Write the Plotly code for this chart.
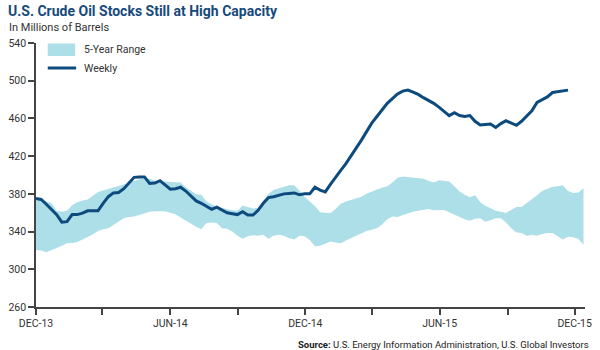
import pandas as pd
import plotly.graph_objects as go

# ---- data (millions of barrels, weekly) ----
weekly = [375, 374, 369, 364, 358, 350, 350.5, 358, 358, 359.5,
          362, 362, 362, 370, 377, 381, 381.5, 385.5, 392, 397.5,
          398, 398, 391, 391.5, 394, 389, 385, 385.5, 387, 383,
          378, 372.5, 370, 367, 363.5, 366, 363, 360, 359, 358,
          361, 357.5, 357.5, 362.5, 370, 376, 377, 378.5, 380, 380.5,
          381, 379, 380, 380, 387, 384, 382, 390, 398, 405,
          412, 420, 428, 437, 446, 455, 462, 469, 476, 481,
          486, 489, 490, 488, 485.5, 482, 479, 476, 472, 467,
          463, 466, 463, 462, 463, 457, 453, 453.5, 454, 450.5,
          454.5, 457.5, 455, 452.7, 457, 462, 468, 477, 479.5, 482.8,
          487.5, 488.5, 489, 490]

range_upper = [376, 374, 372, 370, 362, 361, 362, 368, 371, 373,
               374, 378, 382, 383.5, 385, 386.5, 388, 390, 392, 393.5,
               395.5, 396, 396, 394, 393, 393, 392.5, 392.5, 392, 387,
               383, 379.5, 379, 372, 369, 366.5, 365, 363.5, 362.5, 362,
               367.5, 366, 364.5, 365, 372, 380, 384, 386, 387.5, 389,
               389, 383.5, 377, 372, 367, 360.5, 360, 359.5, 364, 369.5,
               372, 373.5, 375, 377, 380, 382.5, 384.5, 386.5, 388, 392,
               397, 398.5, 398, 397, 397, 396, 394, 392, 394.5, 394,
               393.2, 388, 382.5, 379, 376.5, 378.5, 371, 367.5, 365, 362,
               361, 359.7, 363, 366, 366, 370, 374, 378.5, 383, 385.5,
               387.5, 388, 389, 383, 381, 381.5, 386]

range_lower = [320.5, 320, 318, 320, 322.5, 325, 327.5, 328, 329, 331.5,
               334, 337, 340.5, 342.5, 343.5, 347, 351, 354, 355.5, 356,
               357.5, 359.5, 361, 361.5, 361.5, 361.5, 360, 358.5, 355, 351.5,
               348, 345, 342.5, 349, 349.5, 349, 343.5, 343, 340, 335.5,
               332.5, 335, 336, 335.6, 336.5, 332.5, 335.5, 336.5, 335.5, 333,
               331.5, 335.5, 335, 331, 324.5, 325, 327, 329.5, 328.5, 327.5,
               330.5, 333, 335.5, 338, 340.5, 342, 343.5, 347.5, 353, 356,
               355.5, 357.5, 359.5, 361, 362, 363, 364, 362.5, 362.8, 363,
               360.5, 358, 355.5, 353, 351.5, 353.5, 354, 350.5, 352, 354,
               354, 349.5, 343.5, 339, 338.5, 335.5, 336.3, 335.5, 337.5, 338.5,
               338.5, 335, 331.5, 334.5, 334, 332, 326]

range_dates = pd.date_range("2013-12-01", periods=len(range_upper), freq="7D")
weekly_dates = range_dates[:len(weekly)]

tick_dates = pd.date_range("2013-12-01", "2015-12-01", freq="3MS")
tick_labels = ["DEC-13", "", "JUN-14", "", "DEC-14", "", "JUN-15", "", "DEC-15"]
y_ticks = [260, 300, 340, 380, 420, 460, 500, 540]

BAND = "#ADDFE8"
LINE = "#0D4A7E"
TITLE = "#174A7C"
TXT = "#333333"
FONT = "Roboto"

fig = go.Figure()
fig.add_trace(go.Scatter(x=range_dates, y=range_lower, mode="lines",
                         line=dict(width=0, color=BAND), showlegend=False,
                         hoverinfo="skip"))
fig.add_trace(go.Scatter(x=range_dates, y=range_upper, mode="lines",
                         line=dict(width=0, color=BAND), fill="tonexty",
                         fillcolor=BAND, name="5-Year Range", showlegend=False))
fig.add_trace(go.Scatter(x=weekly_dates, y=weekly, mode="lines",
                         line=dict(width=3, color=LINE), name="Weekly",
                         showlegend=False))

# manual legend
fig.add_shape(type="rect", xref="paper", yref="paper",
              x0=12 / 561, x1=40 / 561, y0=1 - 13 / 264, y1=1 - 0.5 / 264,
              fillcolor=BAND, line=dict(width=0))
fig.add_shape(type="line", xref="paper", yref="paper",
              x0=12 / 561, x1=41 / 561, y0=1 - 25 / 264, y1=1 - 25 / 264,
              line=dict(color=LINE, width=3))
fig.add_annotation(text="5-Year Range", xref="paper", yref="paper",
                   x=47 / 561, y=1 - 6.5 / 264, xanchor="left", yanchor="middle",
                   showarrow=False, font=dict(family=FONT, size=10.5, color=TXT))
fig.add_annotation(text="Weekly", xref="paper", yref="paper",
                   x=47 / 561, y=1 - 25 / 264, xanchor="left", yanchor="middle",
                   showarrow=False, font=dict(family=FONT, size=10.5, color=TXT))

# titles
fig.add_annotation(text="<b>U.S. Crude Oil Stocks Still at High Capacity</b>",
                   xref="paper", yref="paper", x=-31 / 561, y=1 + 32 / 264,
                   xanchor="left", yanchor="middle", showarrow=False,
                   font=dict(family=FONT, size=14, color=TITLE))
fig.add_annotation(text="In Millions of Barrels",
                   xref="paper", yref="paper", x=-30 / 561, y=1 + 16 / 264,
                   xanchor="left", yanchor="middle", showarrow=False,
                   font=dict(family=FONT, size=11, color=TXT))
fig.add_annotation(text="<b>Source:</b> U.S. Energy Information Administration, U.S. Global Investors",
                   xref="paper", yref="paper", x=1 + 6 / 561, y=-37 / 264,
                   xanchor="right", yanchor="middle", showarrow=False,
                   font=dict(family=FONT, size=9.5, color="#222222"))

fig.update_layout(
    width=600, height=350,
    margin=dict(l=31, r=8, t=43, b=43),
    paper_bgcolor="white", plot_bgcolor="white",
    font=dict(family=FONT, size=10.5, color=TXT),
    xaxis=dict(type="date", range=["2013-12-01", "2015-12-15"],
               tickvals=tick_dates, ticktext=tick_labels,
               showgrid=False, zeroline=False, showline=True,
               linecolor="#444444", linewidth=1.5,
               ticks="outside", ticklen=6, tickcolor="#444444", tickwidth=1.5,
               tickfont=dict(size=10.5, color=TXT)),
    yaxis=dict(range=[260, 540], tickvals=y_ticks,
               showgrid=False, zeroline=False, showline=True,
               linecolor="#444444", linewidth=1.5,
               ticks="outside", ticklen=6, tickcolor="#444444", tickwidth=1.5,
               tickfont=dict(size=10.5, color=TXT)),
    showlegend=False,
)

fig.write_html("out.html")
